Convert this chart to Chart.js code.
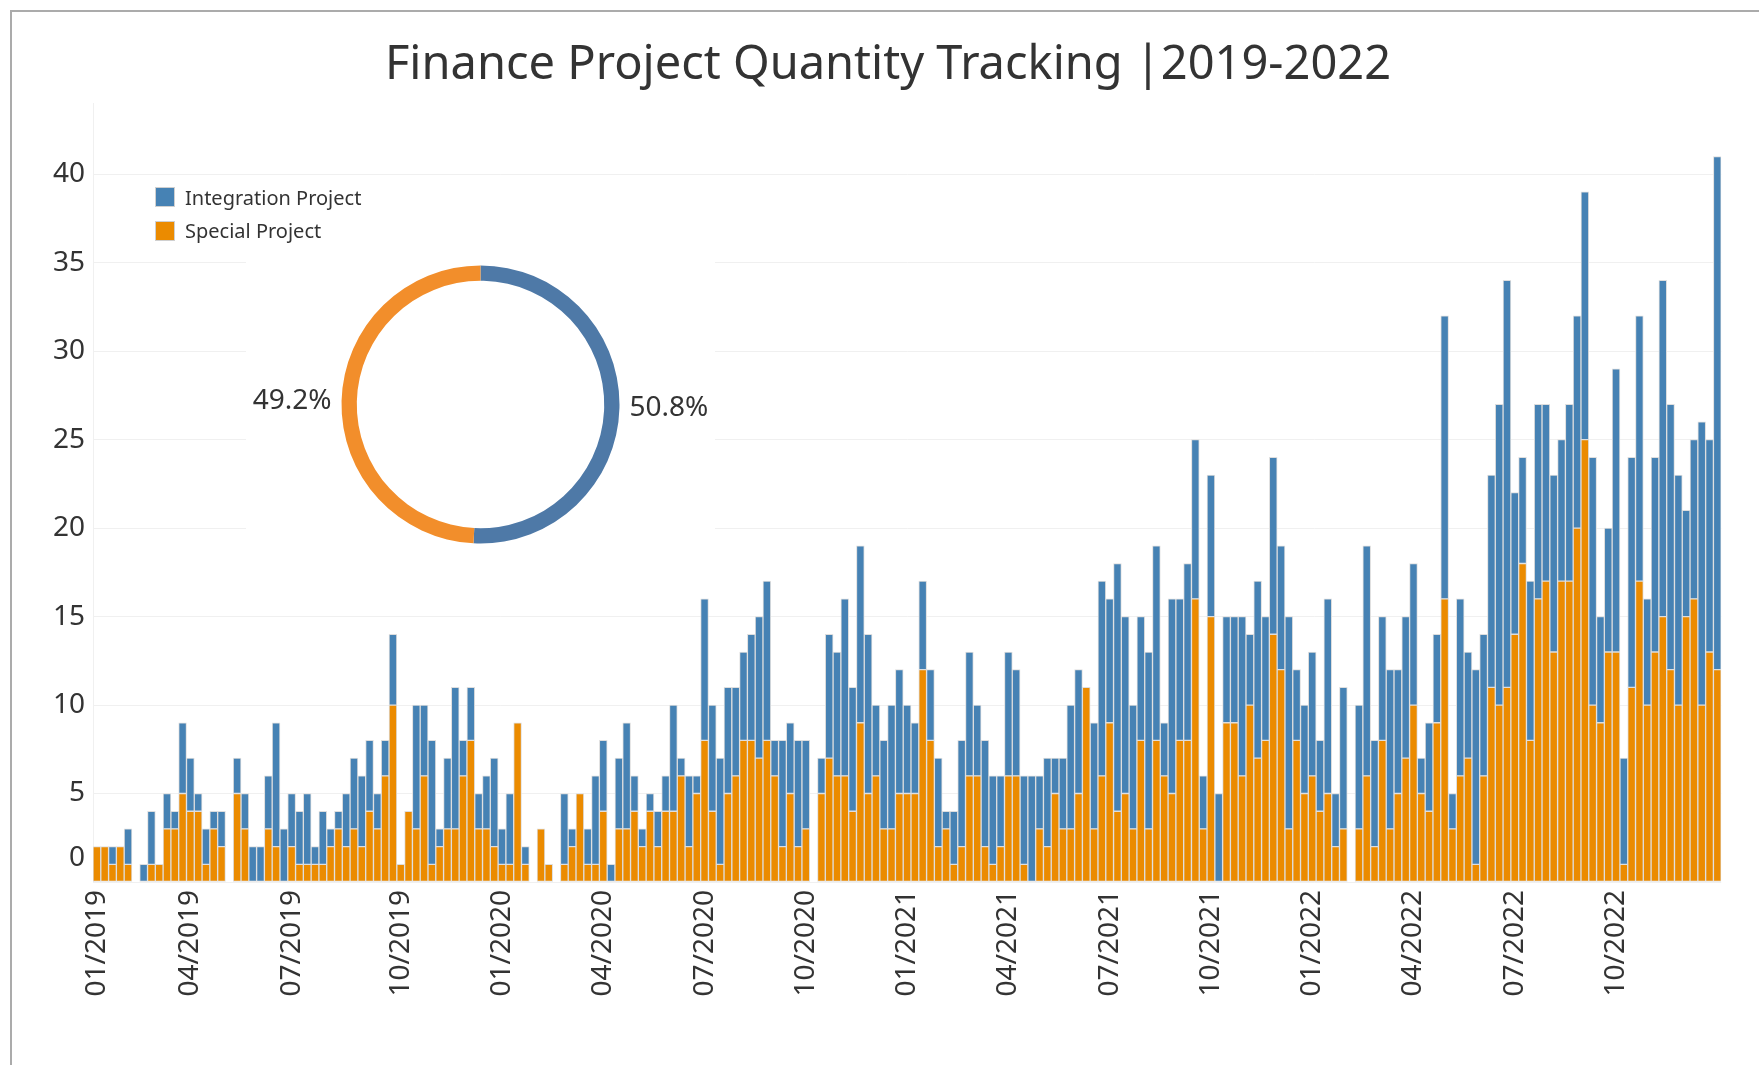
<!DOCTYPE html>
<html>
<head>
<meta charset="utf-8">
<script src="https://cdn.jsdelivr.net/npm/chart.js@4.4.0/dist/chart.umd.min.js"></script>
<style>
  html, body { margin: 0; padding: 0; background: #fff; }
  body { width: 1759px; height: 1065px; position: relative; overflow: hidden; font-family: "Noto Sans", sans-serif; }
  #main { position: absolute; left: 0; top: 0; }
  #frame { position: absolute; left: 10px; top: 10px; right: -5px; bottom: -5px; border-left: 2px solid #ababab; border-top: 2px solid #ababab; pointer-events: none; }
  #donutBox { position: absolute; left: 246px; top: 230px; width: 469px; height: 349px; background: #fff; }
  #legend { position: absolute; left: 155px; top: 187px; font-size: 20px; color: #333; }
  .item { display: flex; align-items: center; height: 20px; margin-bottom: 13.5px; white-space: nowrap; }
  .swatch { width: 18px; height: 18px; border: 1px solid #d0d0d0; margin-right: 10px; }
</style>
</head>
<body>
<canvas id="main" width="1759" height="1065"></canvas>
<div id="donutBox"><canvas id="donut" width="469" height="349"></canvas></div>
<div id="legend"></div>
<div id="frame"></div>
<script>
// weekly counts, starting the week of 01/01/2019 (null = no data that week)
const special = [
  2, 2, 1, 2, 1, null, 0, 1, 1, 3,
  3, 5, 4, 4, 1, 3, 2, null, 5, 3,
  0, 0, 3, 2, 0, 2, 1, 1, 1, 1,
  2, 3, 2, 3, 2, 4, 3, 6, 10, 1,
  4, 3, 6, 1, 2, 3, 3, 6, 8, 3,
  3, 2, 1, 1, 9, 1, null, 3, 1, null,
  1, 2, 5, 1, 1, 4, 0, 3, 3, 4,
  2, 4, 2, 4, 4, 6, 2, 5, 8, 4,
  1, 5, 6, 8, 8, 7, 8, 6, 2, 5,
  2, 3, null, 5, 7, 6, 6, 4, 9, 5,
  6, 3, 3, 5, 5, 5, 12, 8, 2, 3,
  1, 2, 6, 6, 2, 1, 2, 6, 6, 1,
  0, 3, 2, 5, 3, 3, 5, 11, 3, 6,
  9, 4, 5, 3, 8, 3, 8, 6, 5, 8,
  8, 16, 3, 15, 0, 9, 9, 6, 10, 7,
  8, 14, 12, 3, 8, 5, 6, 4, 5, 2,
  3, null, 3, 6, 2, 8, 3, 5, 7, 10,
  5, 4, 9, 16, 3, 6, 7, 1, 6, 11,
  10, 11, 14, 18, 8, 16, 17, 13, 17, 17,
  20, 25, 10, 9, 13, 13, 1, 11, 17, 10,
  13, 15, 12, 10, 15, 16, 10, 13, 12
];
const integration = [
  0, 0, 1, 0, 2, null, 1, 3, 0, 2,
  1, 4, 3, 1, 2, 1, 2, null, 2, 2,
  2, 2, 3, 7, 3, 3, 3, 4, 1, 3,
  1, 1, 3, 4, 4, 4, 2, 2, 4, 0,
  0, 7, 4, 7, 1, 4, 8, 2, 3, 2,
  3, 5, 2, 4, 0, 1, null, 0, 0, null,
  4, 1, 0, 2, 5, 4, 1, 4, 6, 2,
  1, 1, 2, 2, 6, 1, 4, 1, 8, 6,
  6, 6, 5, 5, 6, 8, 9, 2, 6, 4,
  6, 5, null, 2, 7, 7, 10, 7, 10, 9,
  4, 5, 7, 7, 5, 4, 5, 4, 5, 1,
  3, 6, 7, 4, 6, 5, 4, 7, 6, 5,
  6, 3, 5, 2, 4, 7, 7, 0, 6, 11,
  7, 14, 10, 7, 7, 10, 11, 3, 11, 8,
  10, 9, 3, 8, 5, 6, 6, 9, 4, 10,
  7, 10, 7, 12, 4, 5, 7, 4, 11, 3,
  8, null, 7, 13, 6, 7, 9, 7, 8, 8,
  2, 5, 5, 16, 2, 10, 6, 11, 8, 12,
  17, 23, 8, 6, 9, 11, 10, 10, 8, 10,
  12, 14, 14, 6, 7, 16, 6, 13, 15, 6,
  11, 19, 15, 13, 6, 9, 16, 12, 29
];
const tickLabels = ['01/2019', '04/2019', '07/2019', '10/2019', '01/2020', '04/2020', '07/2020', '10/2020',
                    '01/2021', '04/2021', '07/2021', '10/2021', '01/2022', '04/2022', '07/2022', '10/2022'];
const seriesNames = ['Integration Project', 'Special Project'];
const shareValues = [50.8, 49.2];
const blue = '#4682b4';
const orange = '#eb8b00';

Chart.defaults.font.family = '"Noto Sans", sans-serif';
Chart.defaults.color = '#333';

// week categories + which week gets each quarter label
const DAY = 864e5;
const start = Date.UTC(2019, 0, 1);
const weeks = special.map((_, i) => new Date(start + i * 7 * DAY).toISOString().slice(0, 10));
const tickAt = {};
tickLabels.forEach(l => {
    const [m, y] = l.split('/').map(Number);
    tickAt[Math.floor((Date.UTC(y, m - 1, 1) - start) / (7 * DAY))] = l;
});

// "0" sits a bit above the baseline in the original
const zeroLabel = {
    id: 'zeroLabel',
    afterDraw(chart) {
        const y = chart.scales.y;
        const ctx = chart.ctx;
        ctx.save();
        ctx.font = '28px "Noto Sans"';
        ctx.fillStyle = '#333';
        ctx.textAlign = 'right';
        ctx.textBaseline = 'middle';
        ctx.fillText('0', y.right - 8, y.getPixelForValue(0) - 24);
        ctx.restore();
    }
};

new Chart(document.getElementById('main'), {
    type: 'bar',
    data: {
        labels: weeks,
        datasets: [
            { label: seriesNames[1], data: special, backgroundColor: orange },
            { label: seriesNames[0], data: integration, backgroundColor: blue }
        ]
    },
    options: {
        responsive: false,
        animation: false,
        datasets: {
            bar: { barPercentage: 1, categoryPercentage: 1, borderWidth: 1, borderColor: '#dedede', borderSkipped: false }
        },
        layout: { padding: { top: 37, left: 53, right: 36, bottom: 0 } },
        plugins: {
            legend: { display: false },
            tooltip: { enabled: false },
            title: {
                display: true,
                text: 'Finance Project Quantity Tracking |2019-2022',
                color: '#333',
                font: { size: 47, weight: 'normal', lineHeight: 1.2 },
                padding: { top: 0, bottom: 10 }
            }
        },
        scales: {
            x: {
                stacked: true,
                grid: { display: false, drawTicks: false },
                border: { display: false },
                ticks: {
                    autoSkip: false, maxRotation: 90, minRotation: 90, padding: 8,
                    color: '#333', font: { size: 28 },
                    callback: (v, i) => tickAt[i] || ''
                },
                afterFit: s => { s.height = 183; }
            },
            y: {
                stacked: true,
                min: 0,
                max: 44,
                grid: { color: '#f0f0f0', drawTicks: false },
                border: { color: '#f0f0f0' },
                ticks: {
                    stepSize: 5, includeBounds: false, padding: 8,
                    color: '#333', font: { size: 28 },
                    callback: v => v === 0 ? '' : v
                },
                afterFit: s => { s.width = 40; }
            }
        }
    },
    plugins: [zeroLabel]
});

// share ring
const arcLabels = {
    id: 'arcLabels',
    afterDatasetsDraw(chart) {
        const ctx = chart.ctx;
        const meta = chart.getDatasetMeta(0);
        ctx.save();
        ctx.font = '28px "Noto Sans"';
        ctx.fillStyle = '#333';
        ctx.textBaseline = 'middle';
        meta.data.forEach((arc, i) => {
            const p = arc.getProps(['x', 'y', 'startAngle', 'endAngle', 'outerRadius'], true);
            const mid = (p.startAngle + p.endAngle) / 2;
            const r = p.outerRadius + 10;
            const c = Math.cos(mid);
            ctx.textAlign = c >= 0 ? 'left' : 'right';
            ctx.fillText(shareValues[i].toFixed(1) + '%', p.x + r * c, p.y + r * Math.sin(mid));
        });
        ctx.restore();
    }
};

new Chart(document.getElementById('donut'), {
    type: 'doughnut',
    data: {
        labels: seriesNames,
        datasets: [{ data: shareValues, backgroundColor: ['#4e79a7', '#f28e2b'], borderWidth: 0 }]
    },
    options: {
        responsive: false,
        animation: false,
        radius: 139,
        cutout: '89%',
        plugins: { legend: { display: false }, tooltip: { enabled: false } }
    },
    plugins: [arcLabels]
});

// legend
const legend = document.getElementById('legend');
[[seriesNames[0], blue], [seriesNames[1], orange]].forEach(([name, col]) => {
    const row = document.createElement('div');
    row.className = 'item';
    row.innerHTML = '<span class="swatch" style="background:' + col + '"></span><span>' + name + '</span>';
    legend.appendChild(row);
});
</script>
</body>
</html>
